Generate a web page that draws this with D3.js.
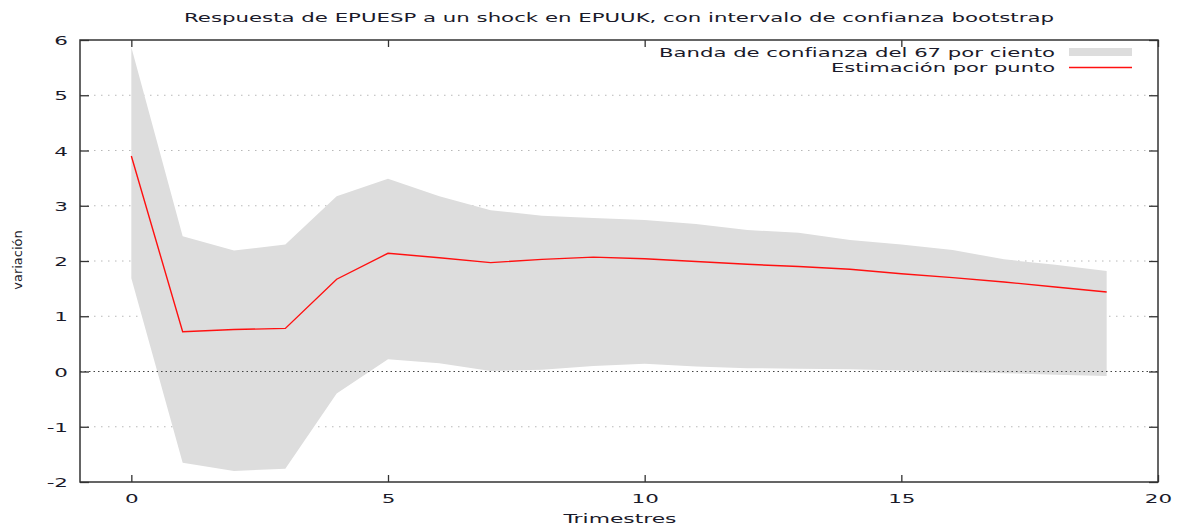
<!DOCTYPE html>
<html lang="es">
<head>
    <meta charset="UTF-8">
    <title>Respuesta de EPUESP a un shock en EPUUK</title>
    <script src="https://cdnjs.cloudflare.com/ajax/libs/d3/7.8.5/d3.min.js"></script>
    <style>
        body { margin: 0; background: #fff; }
        svg text { font-family: "DejaVu Sans", Verdana, sans-serif; fill: #1a1a2a; }
        .grid line { stroke: #b8b8b8; stroke-width: 1; stroke-dasharray: 1.5, 5.5; }
        .zero { stroke: #444; stroke-width: 1; stroke-dasharray: 1.5, 3; }
        .frame { fill: none; stroke: #333; stroke-width: 1.5; }
        .band { fill: #dddddd; }
        .est { fill: none; stroke: #ff1010; stroke-width: 1.4; }
    </style>
</head>
<body>
    <div id="chart"></div>

    <script>
        // Datos
        const periods = [0, 1, 2, 3, 4, 5, 6, 7, 8, 9, 10, 11, 12, 13, 14, 15, 16, 17, 18, 19];
        const estimate = [3.90, 0.72, 0.76, 0.78, 1.67, 2.14, 2.06, 1.97, 2.03, 2.07, 2.04, 1.99, 1.94, 1.90, 1.85, 1.77, 1.70, 1.62, 1.53, 1.44];
        const upper = [5.87, 2.45, 2.19, 2.30, 3.17, 3.49, 3.17, 2.92, 2.82, 2.78, 2.74, 2.67, 2.56, 2.51, 2.38, 2.30, 2.20, 2.03, 1.93, 1.82];
        const lower = [1.69, -1.65, -1.80, -1.76, -0.40, 0.22, 0.15, 0.01, 0.03, 0.10, 0.14, 0.09, 0.06, 0.05, 0.04, 0.02, -0.01, -0.03, -0.06, -0.08];
        const xTicks = [0, 5, 10, 15, 20];
        const yTicks = [-2, -1, 0, 1, 2, 3, 4, 5, 6];

        const width = 1177, height = 525;
        const margin = { top: 40, right: 19, bottom: 43, left: 80 };
        const stretch = 1.65; // el original tiene el texto ensanchado

        const x = d3.scaleLinear().domain([-1, 20]).range([margin.left, width - margin.right]);
        const y = d3.scaleLinear().domain([-2, 6]).range([height - margin.bottom, margin.top]);

        const svg = d3.select("#chart").append("svg")
            .attr("width", width)
            .attr("height", height);

        const rows = periods.map((p, i) => ({ p: p, est: estimate[i], lo: lower[i], hi: upper[i] }));

        // Rejilla horizontal
        svg.append("g")
            .attr("class", "grid")
            .selectAll("line")
            .data(yTicks.filter(d => d !== 0 && d !== -2 && d !== 6))
            .enter()
            .append("line")
            .attr("x1", x(-1)).attr("x2", x(20))
            .attr("y1", d => y(d)).attr("y2", d => y(d));

        // Banda de confianza
        const area = d3.area()
            .x(d => x(d.p))
            .y0(d => y(d.lo))
            .y1(d => y(d.hi));
        svg.append("path").attr("class", "band").attr("d", area(rows));

        // Línea del cero
        svg.append("line")
            .attr("class", "zero")
            .attr("x1", x(-1)).attr("x2", x(20))
            .attr("y1", y(0)).attr("y2", y(0));

        // Estimación por punto
        const line = d3.line().x(d => x(d.p)).y(d => y(d.est));
        svg.append("path").attr("class", "est").attr("d", line(rows));

        // Ejes (con ticks hacia dentro y espejados)
        const plain = d => String(d); // guion corto, como gnuplot
        const axisBottom = svg.append("g")
            .attr("transform", `translate(0,${y(-2)})`)
            .call(d3.axisBottom(x).tickValues(xTicks).tickFormat(plain).tickSizeInner(-7).tickSizeOuter(0).tickPadding(0));
        const axisTop = svg.append("g")
            .attr("transform", `translate(0,${y(6)})`)
            .call(d3.axisTop(x).tickValues(xTicks).tickSizeInner(-7).tickSizeOuter(0).tickFormat(""));
        const axisLeft = svg.append("g")
            .attr("transform", `translate(${x(-1)},0)`)
            .call(d3.axisLeft(y).tickValues(yTicks).tickFormat(plain).tickSizeInner(-9).tickSizeOuter(0));
        const axisRight = svg.append("g")
            .attr("transform", `translate(${x(20)},0)`)
            .call(d3.axisRight(y).tickValues(yTicks).tickSizeInner(-9).tickSizeOuter(0).tickFormat(""));

        [axisBottom, axisTop, axisLeft, axisRight].forEach(g => {
            g.select(".domain").remove();
            g.selectAll(".tick line").attr("stroke", "#333").attr("stroke-width", 1.3);
        });

        axisBottom.selectAll(".tick text")
            .attr("y", 0).attr("dy", null)
            .attr("transform", `translate(0,21) scale(${stretch},1)`)
            .style("font-size", "13px");
        axisLeft.selectAll(".tick text")
            .attr("x", 0).attr("dy", "0.36em")
            .attr("transform", `translate(-12,0) scale(${stretch},1)`)
            .style("font-size", "13px");

        svg.append("rect")
            .attr("class", "frame")
            .attr("x", x(-1)).attr("y", y(6))
            .attr("width", x(20) - x(-1))
            .attr("height", y(-2) - y(6));

        // Título y etiquetas
        svg.append("text")
            .attr("x", (x(-1) + x(20)) / 2).attr("y", 22)
            .attr("text-anchor", "middle")
            .attr("textLength", 870).attr("lengthAdjust", "spacingAndGlyphs")
            .style("font-size", "13px")
            .text("Respuesta de EPUESP a un shock en EPUUK, con intervalo de confianza bootstrap");

        svg.append("text")
            .attr("x", 620).attr("y", 523)
            .attr("text-anchor", "middle")
            .attr("textLength", 113).attr("lengthAdjust", "spacingAndGlyphs")
            .style("font-size", "13px")
            .text("Trimestres");

        svg.append("text")
            .attr("transform", "translate(22,260) rotate(-90)")
            .attr("text-anchor", "middle")
            .style("font-size", "13px")
            .text("variación");

        // Leyenda
        const legend = svg.append("g");
        legend.append("text")
            .attr("x", 1055).attr("y", 57)
            .attr("text-anchor", "end")
            .attr("textLength", 396).attr("lengthAdjust", "spacingAndGlyphs")
            .style("font-size", "13px")
            .text("Banda de confianza del 67 por ciento");
        legend.append("rect")
            .attr("class", "band")
            .attr("x", 1069).attr("y", 48)
            .attr("width", 63).attr("height", 8);
        legend.append("text")
            .attr("x", 1055).attr("y", 72)
            .attr("text-anchor", "end")
            .attr("textLength", 224).attr("lengthAdjust", "spacingAndGlyphs")
            .style("font-size", "13px")
            .text("Estimación por punto");
        legend.append("line")
            .attr("class", "est")
            .attr("x1", 1069).attr("x2", 1132)
            .attr("y1", 67.5).attr("y2", 67.5);
    </script>
</body>
</html>
